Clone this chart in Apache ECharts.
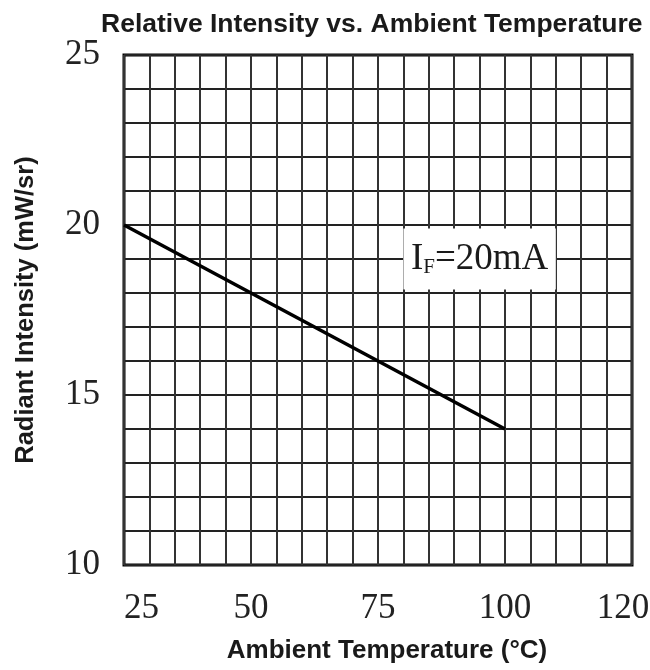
<!DOCTYPE html>
<html>
<head>
<meta charset="utf-8">
<script src="https://cdn.jsdelivr.net/npm/echarts@6/dist/echarts.min.js"></script>
<style>html,body{margin:0;padding:0;background:#fff;}#chart{width:650px;height:670px;}</style>
</head>
<body>
<div id="chart"></div>
<script>
// Data
const temperature = [25, 50, 75, 100];
const intensity = [20, 18, 16, 14];
const xTickValues = [25, 50, 75, 100, 125];
const xTickLabels = ['25', '50', '75', '100', '120'];
const yTickValues = [10, 15, 20, 25];
const yTickLabels = ['10', '15', '20', '25'];

const chart = echarts.init(document.getElementById('chart'), null, {renderer: 'canvas'});
const serif = '"Liberation Serif", "DejaVu Serif", serif';
const sans = '"Liberation Sans", Arial, sans-serif';
const tickFont = {fontFamily: serif, fontSize: 35, color: '#222'};

const option = {
  backgroundColor: '#fff',
  animation: false,
  title: {
    text: 'Relative Intensity vs. Ambient Temperature',
    left: 96, top: 6,
    textStyle: {fontFamily: sans, fontWeight: 'bold', fontSize: 26.5, color: '#1a1a1a'}
  },
  grid: {left: 124, right: 18, top: 55, bottom: 105, show: true, borderColor: '#000', borderWidth: 3,
         backgroundColor: 'transparent', containLabel: false, outerBoundsMode: 'none'},
  xAxis: {
    type: 'value', min: 25, max: 125, interval: 5,
    name: 'Ambient Temperature (°C)', nameLocation: 'middle', nameGap: 73,
    nameTextStyle: {fontFamily: sans, fontWeight: 'bold', fontSize: 26, color: '#1a1a1a', padding: [0, 0, 0, 18]},
    axisLine: {show: false}, axisTick: {show: false},
    axisLabel: Object.assign({
      margin: 26, alignMinLabel: 'left',
      formatter: function (v) {
        const i = xTickValues.indexOf(v);
        if (i < 0) return '';
        return i === xTickValues.length - 1 ? '{r|' + xTickLabels[i] + '}' : xTickLabels[i];
      },
      rich: {r: Object.assign({padding: [0, 18, 0, 0]}, tickFont)}
    }, tickFont),
    splitLine: {show: true, lineStyle: {color: '#333', width: 2}}
  },
  yAxis: {
    type: 'value', min: 10, max: 25, interval: 1,
    name: 'Radiant Intensity (mW/sr)', nameLocation: 'middle', nameGap: 85,
    nameTextStyle: {fontFamily: sans, fontWeight: 'bold', fontSize: 25.5, color: '#1a1a1a'},
    axisLine: {show: false}, axisTick: {show: false},
    axisLabel: Object.assign({
      margin: 24,
      formatter: function (v) { const i = yTickValues.indexOf(v); return i >= 0 ? yTickLabels[i] : ''; }
    }, tickFont),
    splitLine: {show: true, lineStyle: {color: '#222', width: 2}}
  },
  series: [{
    type: 'line',
    data: temperature.map((t, i) => [t, intensity[i]]),
    symbol: 'none',
    lineStyle: {color: '#000', width: 3.5},
    markArea: {
      silent: true,
      itemStyle: {color: '#fff', opacity: 1},
      label: {
        show: true, position: 'inside',
        formatter: '{a|I}{b|F}{a|=20mA}',
        rich: {
          a: {fontFamily: serif, fontSize: 37, color: '#1a1a1a', verticalAlign: 'bottom', lineHeight: 38},
          b: {fontFamily: serif, fontSize: 21, color: '#1a1a1a', verticalAlign: 'bottom', lineHeight: 38}
        }
      },
      data: [[{coord: [80, 19.9]}, {coord: [110, 18.1]}]]
    }
  }]
};
chart.setOption(option);
</script>
</body>
</html>
